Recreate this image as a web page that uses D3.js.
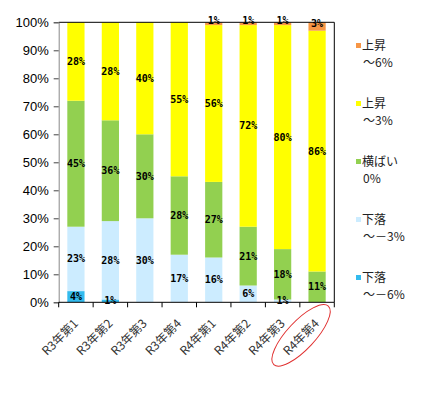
<!DOCTYPE html>
<html>
<head>
<meta charset="utf-8">
<script src="https://cdn.jsdelivr.net/npm/d3@7"></script>
<style>
  body { margin: 0; background: #fff; }
  svg { display: block; }
</style>
</head>
<body>
<svg id="chart" width="433" height="393"></svg>
<script>
// categories and series (percent, bottom to top)
var quarters = ["R3年第1", "R3年第2", "R3年第3", "R3年第4", "R4年第1", "R4年第2", "R4年第3", "R4年第4"];
var fall6  = [4, 1, 0, 0, 0, 0, 0, 0];
var fall3  = [23, 28, 30, 17, 16, 6, 1, 0];
var flat   = [45, 36, 30, 28, 27, 21, 18, 11];
var rise3  = [28, 35, 40, 55, 56, 72, 80, 86];
var rise6  = [0, 0, 0, 0, 1, 1, 1, 3];
// labels as printed on the chart (R3年第2 yellow reads 28%)
var rise3Labels = [28, 28, 40, 55, 56, 72, 80, 86];
var yTicks = [0, 10, 20, 30, 40, 50, 60, 70, 80, 90, 100];

var series = [
  { name: ["下落", "～－6%"], color: "#33BBEE", values: fall6,  labels: fall6 },
  { name: ["下落", "～－3%"], color: "#CCECFF", values: fall3,  labels: fall3 },
  { name: ["横ばい", "0%"],   color: "#92D050", values: flat,   labels: flat },
  { name: ["上昇", "～3%"],   color: "#FFFF00", values: rise3,  labels: rise3Labels },
  { name: ["上昇", "～6%"],   color: "#F79646", values: rise6,  labels: rise6 }
];

var svg = d3.select("#chart");
var plotL = 58.7, plotR = 334.3, plotT = 22.3, plotB = 302.3;

var x = d3.scaleBand()
    .domain(quarters)
    .range([plotL, plotR])
    .paddingInner(0.5)
    .paddingOuter(0.25);

var y = d3.scaleLinear()
    .domain([0, 100])
    .range([plotB, plotT]);

// stack the series
var stackData = quarters.map(function (q, i) {
  var row = { q: q };
  series.forEach(function (s, j) { row["s" + j] = s.values[i]; });
  return row;
});
var stacked = d3.stack().keys(series.map(function (s, j) { return "s" + j; }))(stackData);

svg.append("clipPath").attr("id", "plotclip")
  .append("rect")
    .attr("x", plotL).attr("y", plotT)
    .attr("width", plotR - plotL).attr("height", plotB - plotT);

var bars = svg.append("g").attr("clip-path", "url(#plotclip)");
stacked.forEach(function (layer, j) {
  bars.append("g")
      .attr("fill", series[j].color)
    .selectAll("rect")
    .data(layer)
    .enter()
    .append("rect")
      .attr("x", function (d) { return x(d.data.q); })
      .attr("width", x.bandwidth())
      .attr("y", function (d) { return y(d[1]); })
      .attr("height", function (d) { return y(d[0]) - y(d[1]); });
});

// frame: top and right border
svg.append("line")
    .attr("x1", plotL).attr("x2", plotR).attr("y1", plotT).attr("y2", plotT)
    .attr("stroke", "#000");
svg.append("line")
    .attr("x1", plotR).attr("x2", plotR).attr("y1", plotT).attr("y2", plotB)
    .attr("stroke", "#000");

// y axis
var yAxis = svg.append("g")
    .attr("transform", "translate(" + plotL + ",0)")
    .call(d3.axisLeft(y).tickValues(yTicks).tickSize(5).tickPadding(5)
      .tickFormat(function (d) { return d + "%"; }));
yAxis.select(".domain").attr("stroke", "#888");
yAxis.selectAll(".tick line").attr("stroke", "#444");
yAxis.selectAll("text")
    .attr("font-family", "'Liberation Sans Narrow', 'Liberation Sans', sans-serif")
    .attr("font-size", "13px")
    .attr("fill", "#000");

// x axis: ticks on band boundaries
var xg = svg.append("g");
xg.append("line")
    .attr("x1", plotL).attr("x2", plotR).attr("y1", plotB).attr("y2", plotB)
    .attr("stroke", "#000");
var bounds = quarters.map(function (q) { return x(q) - x.step() * x.paddingInner() / 2; });
bounds.push(plotR);
xg.selectAll("line.tk")
  .data(bounds)
  .enter()
  .append("line")
    .attr("class", "tk")
    .attr("x1", function (d) { return d; })
    .attr("x2", function (d) { return d; })
    .attr("y1", plotB).attr("y2", plotB + 5)
    .attr("stroke", "#000");

xg.selectAll("text")
  .data(quarters)
  .enter()
  .append("text")
    .attr("transform", function (d) {
      return "translate(" + (x(d) + x.bandwidth() / 2) + "," + (plotB + 19) + ") rotate(-45)";
    })
    .attr("text-anchor", "end")
    .attr("dy", "0.35em")
    .attr("font-family", "'Noto Sans CJK JP', sans-serif")
    .attr("font-size", "12px")
    .attr("fill", "#333")
    .text(function (d) { return d; });

// highlight ellipse around the latest quarter
var lastQ = quarters[quarters.length - 1];
svg.append("ellipse")
    .attr("transform", "translate(" + (x(lastQ) + x.bandwidth() / 2 - 16) + "," + (plotB + 33) + ") rotate(-47)")
    .attr("rx", 40)
    .attr("ry", 14)
    .attr("fill", "none")
    .attr("stroke", "#E03030")
    .attr("stroke-width", 1);

// data labels (top series labels sit a little higher, over the frame line)
var lbl = svg.append("g")
    .attr("font-family", "'DejaVu Sans Mono', monospace")
    .attr("font-weight", "bold")
    .attr("font-size", "10px")
    .attr("text-anchor", "middle")
    .attr("fill", "#000");
stacked.forEach(function (layer, j) {
  var lift = j === series.length - 1 ? 3 : 0;
  lbl.selectAll("text.s" + j)
    .data(layer.filter(function (d, i) { return series[j].values[i] > 0; }))
    .enter()
    .append("text")
      .attr("class", "s" + j)
      .attr("x", function (d) { return x(d.data.q) + x.bandwidth() / 2; })
      .attr("y", function (d) { return y((d[0] + Math.min(d[1], 100)) / 2) - lift; })
      .attr("dy", "0.35em")
      .text(function (d) { return series[j].labels[quarters.indexOf(d.data.q)] + "%"; });
});

// legend (top entry is the top series)
var legendY = d3.scaleLinear().domain([0, 4]).range([46, 278]);
var legend = svg.append("g")
    .attr("font-family", "'Noto Sans CJK JP', sans-serif")
    .attr("font-size", "12px")
    .attr("fill", "#222");
series.slice().reverse().forEach(function (s, k) {
  var ly = legendY(k);
  legend.append("rect")
      .attr("x", 356).attr("y", ly - 3)
      .attr("width", 5).attr("height", 5)
      .attr("fill", s.color);
  legend.append("text")
      .attr("x", 362).attr("y", ly)
      .attr("dy", "0.35em")
      .text(s.name[0]);
  legend.append("text")
      .attr("x", 363).attr("y", ly + 17)
      .attr("dy", "0.35em")
      .text(s.name[1]);
});
</script>
</body>
</html>
